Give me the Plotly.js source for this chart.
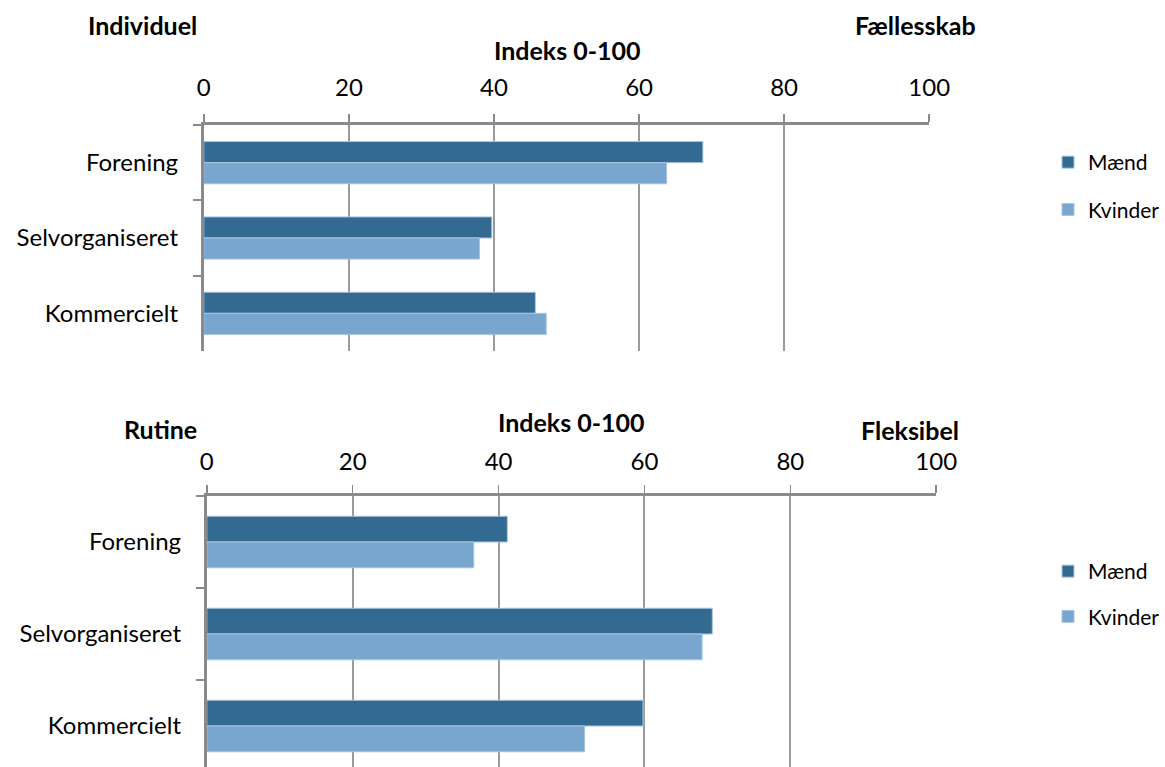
<!DOCTYPE html>
<html>
<head>
<meta charset="utf-8">
<script src="https://cdn.plot.ly/plotly-3.0.1.min.js"></script>
<style>html,body{margin:0;padding:0;background:#fff}#chart{width:1165px;height:767px}</style>
</head>
<body>
<div id="chart"></div>
<script>
const categories = ["Forening", "Selvorganiseret", "Kommercielt"];
const seriesNames = ["Mænd", "Kvinder"];
// Top chart: Individuel (0) – Fællesskab (100)
const topMaend = [68.8, 39.7, 45.7];
const topKvinder = [63.8, 38.0, 47.2];
// Bottom chart: Rutine (0) – Fleksibel (100)
const botMaend = [41.2, 69.3, 59.8];
const botKvinder = [36.6, 67.9, 51.8];
const tickVals = [0, 20, 40, 60, 80, 100];
const tickText = ["0", "20", "40", "60", "80", "100"];

const W = 1165, H = 767;
const FONT = "Lato, Open Sans, sans-serif";
const cM = "#336a91", cK = "#78a6cf";
const edge = "#a8c4de";

function bar(x, name, color, xa, ya, leg) {
  return {
    type: "bar", orientation: "h", x: x, y: categories, name: name,
    xaxis: xa, yaxis: ya, legend: leg, legendgroup: leg + name, showlegend: true,
    marker: {color: color, line: {color: edge, width: 1}},
    hoverinfo: "x+y+name"
  };
}

const data = [
  bar(topMaend, seriesNames[0], cM, "x", "y", "legend"),
  bar(topKvinder, seriesNames[1], cK, "x", "y", "legend"),
  bar(botMaend, seriesNames[0], cM, "x2", "y2", "legend2"),
  bar(botKvinder, seriesNames[1], cK, "x2", "y2", "legend2")
];

function xax(dom, anchor, standoff) {
  return {
    domain: dom, anchor: anchor, side: "top", range: [0, 100], fixedrange: true,
    tickvals: tickVals, ticktext: tickText, ticks: "outside", ticklen: 8, tickwidth: 1.5,
    tickcolor: "#8a8a8a", ticklabelstandoff: standoff,
    showline: true, linecolor: "#8a8a8a", linewidth: 3,
    showgrid: true, gridcolor: "#9a9a9a", gridwidth: 2, zeroline: false,
    tickfont: {family: FONT, size: 24, color: "#000"}
  };
}
function yax(dom, anchor, range) {
  return {
    domain: dom, anchor: anchor, type: "category", categoryorder: "array",
    categoryarray: categories, range: range, fixedrange: true,
    ticks: "outside", tickson: "boundaries", ticklen: 8, tickwidth: 2, tickcolor: "#8a8a8a",
    ticklabelstandoff: 18,
    showline: true, linecolor: "#8a8a8a", linewidth: 3, showgrid: false, zeroline: false,
    tickfont: {family: FONT, size: 24, color: "#000"}
  };
}

const topY0 = 125, topY1 = 351, botY0 = 496, botY1 = 767;
const botRangeEnd = -0.5 + (botY1 - botY0) / 92;

function ann(text, xpx, ypx, size, bold) {
  return {text: bold ? "<b>" + text + "</b>" : text, xref: "paper", yref: "paper",
    x: xpx / W, y: 1 - ypx / H, xanchor: "center", yanchor: "middle", showarrow: false,
    font: {family: FONT, size: size, color: "#000"}};
}

const layout = {
  width: W, height: H, margin: {l: 0, r: 0, t: 0, b: 0},
  paper_bgcolor: "#fff", plot_bgcolor: "#fff",
  barmode: "group", bargap: 0.44, bargroupgap: 0,
  xaxis: xax([204 / W, 930 / W], "y", 8),
  yaxis: yax([1 - topY1 / H, 1 - topY0 / H], "x", [2.5, -0.5]),
  xaxis2: xax([207 / W, 937 / W], "y2", 5),
  yaxis2: yax([0, 1 - botY0 / H], "x2", [botRangeEnd, -0.5]),
  legend: {x: 1049 / W, y: 1 - 142 / H, xanchor: "left", yanchor: "top",
    font: {family: FONT, size: 21, color: "#000"}, tracegroupgap: 17, traceorder: "grouped",
    bgcolor: "rgba(0,0,0,0)", itemwidth: 30},
  legend2: {x: 1049 / W, y: 1 - 551 / H, xanchor: "left", yanchor: "top",
    font: {family: FONT, size: 21, color: "#000"}, tracegroupgap: 15, traceorder: "grouped",
    bgcolor: "rgba(0,0,0,0)", itemwidth: 30},
  annotations: [
    ann("Individuel", 143, 25, 25, true),
    ann("Fællesskab", 916, 25, 25, true),
    ann("Indeks 0-100", 568, 50, 25, true),
    ann("Rutine", 161, 429, 25, true),
    ann("Indeks 0-100", 572, 422, 25, true),
    ann("Fleksibel", 911, 430, 25, true)
  ]
};

Plotly.newPlot("chart", data, layout, {displayModeBar: false, staticPlot: true});
</script>
</body>
</html>
